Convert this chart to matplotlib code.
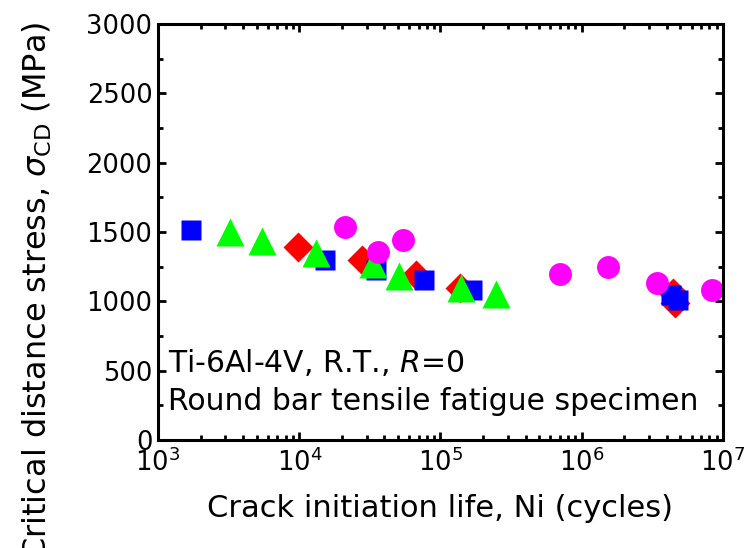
import numpy as np
import matplotlib
matplotlib.use('Agg')
import matplotlib.pyplot as plt
from matplotlib.ticker import LogLocator, MultipleLocator, NullFormatter

plt.rcParams['font.family'] = ['DejaVu Sans']
plt.rcParams['mathtext.fontset'] = 'dejavusans'

# red diamonds
red_n = [9850, 27700, 67100, 137500, 4.4e6, 4.6e6]
red_s = [1394, 1298, 1190, 1094, 1060, 990]
# blue squares
blue_n = [1700, 15300, 34800, 76700, 166300, 4.3e6, 4.83e6]
blue_s = [1514, 1296, 1224, 1154, 1082, 1046, 1010]
# green triangles
green_n = [3230, 5460, 13070, 33300, 50600, 138600, 248000]
green_s = [1500, 1433, 1349, 1270, 1184, 1095, 1055]
# magenta circles
mag_n = [21080, 36000, 54500, 698000, 1.534e6, 3.43e6, 8.36e6]
mag_s = [1534, 1358, 1440, 1200, 1248, 1130, 1080]

fig = plt.figure(figsize=(7.51, 5.48), dpi=100)
ax = fig.add_axes([0.2104, 0.197, 0.7523, 0.759])

ax.plot(red_n, red_s, 'D', color='#ff0000', ms=15, mec='none')
ax.plot(blue_n, blue_s, 's', color='#0000ff', ms=14.5, mec='none')
ax.plot(green_n, green_s, '^', color='#00ff00', ms=20, mec='none')
ax.plot(mag_n, mag_s, 'o', color='#ff00ff', ms=16.5, mec='none')

ax.set_xscale('log')
ax.set_xlim(1e3, 1e7)
ax.set_ylim(0, 3000)
ax.yaxis.set_major_locator(MultipleLocator(500))
ax.yaxis.set_minor_locator(MultipleLocator(250))
ax.xaxis.set_minor_locator(LogLocator(base=10, subs=np.arange(2, 10)))
ax.xaxis.set_minor_formatter(NullFormatter())

for s in ax.spines.values():
    s.set_linewidth(2.2)
ax.tick_params(which='both', direction='in', top=True, right=True, width=2)
ax.tick_params(which='major', length=6, labelsize=18.5)
ax.tick_params(axis='x', which='major', pad=6)
ax.tick_params(axis='y', which='major', pad=4)
ax.tick_params(which='minor', length=3.5)

ax.set_xlabel('Crack initiation life, Ni (cycles)', fontsize=22, labelpad=12)
ax.set_ylabel(r'Critical distance stress, $\sigma_{\rm CD}$ (MPa)', fontsize=23, va='center')
ax.yaxis.set_label_coords(-0.214, 0.36)

ax.text(0.017, 0.163, r'Ti-6Al-4V, R.T., $R$=0', transform=ax.transAxes,
        fontsize=21.5, va='baseline', ha='left')
ax.text(0.017, 0.072, 'Round bar tensile fatigue specimen', transform=ax.transAxes,
        fontsize=21.5, va='baseline', ha='left')

fig.savefig('out.png', dpi=100)
